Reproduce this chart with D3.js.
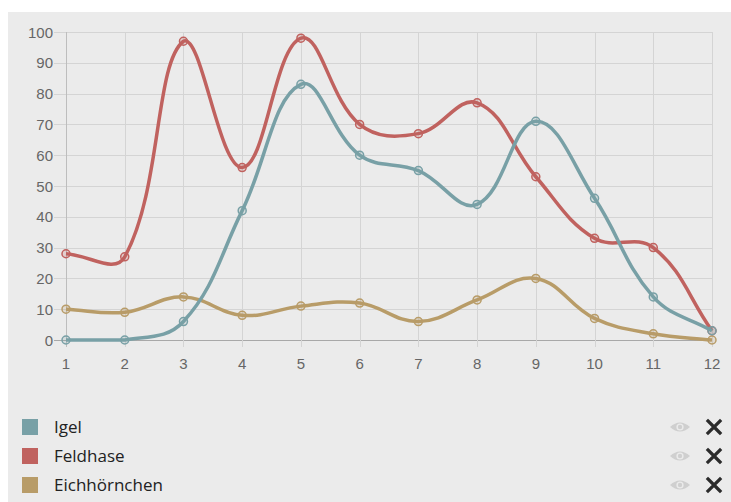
<!DOCTYPE html>
<html>
<head>
<meta charset="utf-8">
<script src="https://d3js.org/d3.v7.min.js"></script>
<style>
  body { margin: 0; background: #fff; }
  svg { display: block; }
</style>
</head>
<body>
<div id="chart"></div>
<script>
// data
var months = [1, 2, 3, 4, 5, 6, 7, 8, 9, 10, 11, 12];
var igel = [0, 0, 6, 42, 83, 60, 55, 44, 71, 46, 14, 3];
var feldhase = [28, 27, 97, 56, 98, 70, 67, 77, 53, 33, 30, 3];
var eichhoernchen = [10, 9, 14, 8, 11, 12, 6, 13, 20, 7, 2, 0];
var yTicks = [0, 10, 20, 30, 40, 50, 60, 70, 80, 90, 100];

var series = [
    { name: 'Igel', values: igel, color: '#78a0a6' },
    { name: 'Feldhase', values: feldhase, color: '#c0625f' },
    { name: 'Eichhörnchen', values: eichhoernchen, color: '#b89c68' }
];

var width = 731, height = 502;

var svg = d3.select('#chart')
    .append('svg')
    .attr('width', width)
    .attr('height', height);

// panel background
svg.append('rect')
    .attr('x', 8).attr('y', 12)
    .attr('width', width - 8).attr('height', height - 12)
    .attr('fill', '#ebebeb');

// scales
var x = d3.scaleLinear().domain([1, 12]).range([66, 712]);
var y = d3.scaleLinear().domain([0, 100]).range([340, 32]);

// grid
var grid = svg.append('g');
grid.selectAll('line.h')
    .data(yTicks)
    .enter()
    .append('line')
    .attr('class', 'h')
    .attr('x1', 54).attr('x2', 712)
    .attr('y1', (d) => Math.round(y(d)) + 0.5).attr('y2', (d) => Math.round(y(d)) + 0.5)
    .attr('stroke', (d) => d === 0 ? '#a8a8a8' : '#d4d4d4')
    .attr('stroke-width', 1);

grid.selectAll('line.v')
    .data(months)
    .enter()
    .append('line')
    .attr('class', 'v')
    .attr('x1', (d) => Math.round(x(d)) + 0.5).attr('x2', (d) => Math.round(x(d)) + 0.5)
    .attr('y1', y(100)).attr('y2', y(0) + 7)
    .attr('stroke', (d, i) => i === 0 ? '#bdbdbd' : '#d4d4d4')
    .attr('stroke-width', 1);

// tick labels
svg.selectAll('text.ylab')
    .data(yTicks)
    .enter()
    .append('text')
    .attr('class', 'ylab')
    .attr('x', 53)
    .attr('y', (d) => y(d) + 5.5)
    .attr('text-anchor', 'end')
    .attr('font-family', 'Liberation Sans, Arial, sans-serif')
    .attr('font-size', 15)
    .attr('fill', '#666')
    .text((d) => d);

svg.selectAll('text.xlab')
    .data(months)
    .enter()
    .append('text')
    .attr('class', 'xlab')
    .attr('x', (d) => x(d))
    .attr('y', 369)
    .attr('text-anchor', 'middle')
    .attr('font-family', 'Liberation Sans, Arial, sans-serif')
    .attr('font-size', 15)
    .attr('fill', '#666')
    .text((d) => d);

// smooth line with control points kept inside the plot area
var tension = 0.4;
function splinePath(values) {
    var pts = values.map((d, i) => [x(months[i]), y(d)]);
    var cps = pts.map((cur, i) => {
        var prev = pts[i - 1] || cur, next = pts[i + 1] || cur;
        var d01 = Math.hypot(cur[0] - prev[0], cur[1] - prev[1]);
        var d12 = Math.hypot(next[0] - cur[0], next[1] - cur[1]);
        var s01 = d01 + d12 ? d01 / (d01 + d12) : 0;
        var s12 = d01 + d12 ? d12 / (d01 + d12) : 0;
        var fa = tension * s01, fb = tension * s12;
        var clampY = (v) => Math.max(y(100), Math.min(y(0), v));
        return {
            prev: [cur[0] - fa * (next[0] - prev[0]), clampY(cur[1] - fa * (next[1] - prev[1]))],
            next: [cur[0] + fb * (next[0] - prev[0]), clampY(cur[1] + fb * (next[1] - prev[1]))]
        };
    });
    var p = d3.path();
    p.moveTo(pts[0][0], pts[0][1]);
    for (var i = 1; i < pts.length; i++) {
        p.bezierCurveTo(cps[i - 1].next[0], cps[i - 1].next[1], cps[i].prev[0], cps[i].prev[1], pts[i][0], pts[i][1]);
    }
    return p.toString();
}

// draw in reverse so Igel sits on top
var order = series.slice().reverse();

order.forEach((s) => {
    svg.append('path')
        .datum(s.values)
        .attr('d', splinePath)
        .attr('fill', 'none')
        .attr('stroke', s.color)
        .attr('stroke-width', 3.5)
        .attr('stroke-linejoin', 'round');

    svg.selectAll(null)
        .data(s.values)
        .enter()
        .append('circle')
        .attr('cx', (d, i) => x(months[i]))
        .attr('cy', (d) => y(d))
        .attr('r', 4)
        .attr('fill', s.color)
        .attr('fill-opacity', 0.2)
        .attr('stroke', s.color)
        .attr('stroke-width', 1.5);
});

// legend
var legend = svg.selectAll('g.legend')
    .data(series)
    .enter()
    .append('g')
    .attr('class', 'legend')
    .attr('transform', (d, i) => 'translate(0,' + (427 + i * 29) + ')');

legend.append('rect')
    .attr('x', 22).attr('y', -8)
    .attr('width', 16).attr('height', 16)
    .attr('fill', (d) => d.color);

legend.append('text')
    .attr('x', 54).attr('y', 6)
    .attr('font-family', 'Open Sans, sans-serif')
    .attr('font-size', 17)
    .attr('fill', '#222')
    .text((d) => d.name);

// eye icon
legend.append('path')
    .attr('d', 'M670,0 Q680,-9 690,0 Q680,9 670,0 Z')
    .attr('fill', '#cfcfcf');
legend.append('circle')
    .attr('cx', 680).attr('cy', 0).attr('r', 3.6)
    .attr('fill', '#ebebeb');
legend.append('circle')
    .attr('cx', 680).attr('cy', 0).attr('r', 2.2)
    .attr('fill', '#cfcfcf');

// close icon
legend.append('path')
    .attr('d', 'M708,-6 L720,6 M720,-6 L708,6')
    .attr('stroke', '#2b2b2b')
    .attr('stroke-width', 3.2)
    .attr('stroke-linecap', 'square');
</script>
</body>
</html>
